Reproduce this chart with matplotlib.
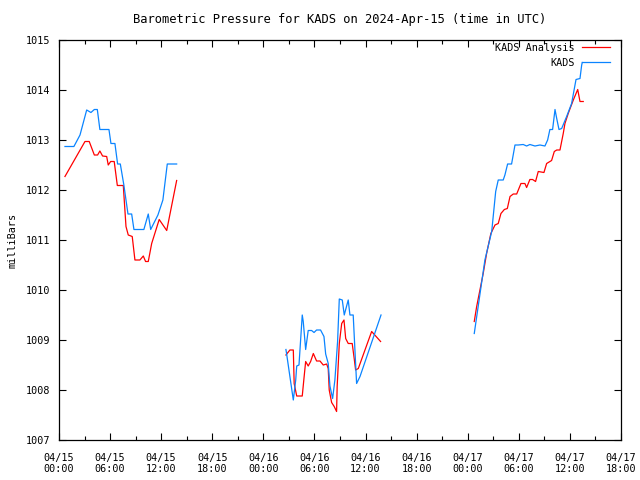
import numpy as np
import matplotlib
matplotlib.use('Agg')
import matplotlib.pyplot as plt
import matplotlib.dates as mdates

# hours after 2024-04-15 00:00 UTC, NaN marks a gap in the record
kads_hours = [0.70, 1.76, 2.47, 3.25, 3.76, 4.15, 4.50, 4.81, 5.87, 6.11, 6.58, 6.89, 7.20, 7.63,
              8.10, 8.54, 8.81, 9.98, 10.49, 10.77, 11.63, 12.21, 12.72, 13.82, np.nan,
              26.66, 26.74, 27.52, 27.80, 27.92, 28.19, 28.57, 28.69, 28.97, 29.28, 29.68, 29.95,
              30.26, 30.73, 31.12, 31.32, 31.63, 31.83, 32.14, 32.41, 32.73, 32.92, 33.27, 33.51,
              33.70, 33.98, 34.17, 34.56, 34.76, 34.96, 35.35, 37.82, np.nan,
              48.77, 50.03, 50.82, 51.29, 51.59, 52.18, 52.38, 52.69, 53.16, 53.55, 53.94, 54.53,
              54.92, 55.31, 55.90, 56.49, 57.07, 57.39, 57.66, 57.98, 58.25, 58.45, 58.72, 59.04,
              59.62, 60.21, 60.72, 61.19, 61.39, 61.46]
kads_mb = [1012.87, 1012.87, 1013.10, 1013.60, 1013.55, 1013.61, 1013.61, 1013.21, 1013.21, 1012.93,
           1012.93, 1012.52, 1012.52, 1012.10, 1011.52, 1011.52, 1011.21, 1011.21, 1011.52, 1011.21,
           1011.50, 1011.80, 1012.52, 1012.52, np.nan,
           1008.81, 1008.72, 1007.80, 1008.20, 1008.48, 1008.50, 1009.50, 1009.37, 1008.81, 1009.19,
           1009.19, 1009.15, 1009.20, 1009.20, 1009.07, 1008.72, 1008.53, 1008.08, 1007.83, 1008.20,
           1008.97, 1009.82, 1009.80, 1009.50, 1009.63, 1009.80, 1009.50, 1009.50, 1008.81, 1008.13,
           1008.27, 1009.50, np.nan,
           1009.13, 1010.60, 1011.17, 1011.97, 1012.20, 1012.20, 1012.30, 1012.52, 1012.52, 1012.90,
           1012.90, 1012.91, 1012.88, 1012.91, 1012.88, 1012.90, 1012.88, 1013.00, 1013.21, 1013.21,
           1013.61, 1013.43, 1013.21, 1013.23, 1013.47, 1013.73, 1014.21, 1014.23, 1014.50, 1014.55]

anl_hours = [0.70, 3.05, 3.56, 4.15, 4.54, 4.81, 5.13, 5.60, 5.79, 6.07, 6.49, 6.85, 7.55, 7.87,
             8.14, 8.61, 8.93, 9.51, 9.90, 10.18, 10.49, 10.89, 11.78, 12.65, 13.82, np.nan,
             26.66, 27.13, 27.52, 27.63, 27.92, 28.57, 28.77, 28.97, 29.28, 29.56, 29.87, 30.26,
             30.65, 31.04, 31.44, 31.63, 31.74, 32.03, 32.33, 32.61, 32.68, 32.92, 33.20, 33.47,
             33.67, 33.98, 34.44, 34.68, 34.84, 35.15, 36.72, 37.78, np.nan,
             48.77, 49.05, 49.83, 50.23, 50.73, 51.20, 51.59, 51.91, 52.30, 52.65, 52.97, 53.35,
             53.75, 54.26, 54.73, 54.93, 55.31, 55.62, 55.98, 56.29, 56.96, 57.27, 57.86, 58.17,
             58.45, 58.84, 59.22, 59.43, 59.81, 60.40, 60.92, 61.19, 61.57]
anl_mb = [1012.27, 1012.97, 1012.97, 1012.70, 1012.70, 1012.78, 1012.68, 1012.67, 1012.50, 1012.57,
          1012.57, 1012.09, 1012.09, 1011.27, 1011.10, 1011.07, 1010.60, 1010.60, 1010.68, 1010.57,
          1010.57, 1010.93, 1011.41, 1011.19, 1012.19, np.nan,
          1008.70, 1008.80, 1008.80, 1008.13, 1007.88, 1007.88, 1008.23, 1008.57, 1008.48, 1008.57,
          1008.73, 1008.58, 1008.58, 1008.50, 1008.52, 1008.43, 1008.00, 1007.75, 1007.67, 1007.57,
          1008.07, 1008.93, 1009.33, 1009.40, 1009.03, 1008.93, 1008.93, 1008.63, 1008.40, 1008.43,
          1009.17, 1008.97, np.nan,
          1009.37, 1009.67, 1010.33, 1010.73, 1011.13, 1011.30, 1011.33, 1011.53, 1011.61, 1011.63,
          1011.87, 1011.92, 1011.92, 1012.13, 1012.13, 1012.05, 1012.21, 1012.21, 1012.17, 1012.37,
          1012.35, 1012.53, 1012.59, 1012.77, 1012.80, 1012.80, 1013.13, 1013.33, 1013.53, 1013.80,
          1014.01, 1013.77, 1013.77]

start = np.datetime64('2024-04-15T00:00')
end = np.datetime64('2024-04-17T18:00')


def to_times(hours):
    mins = np.nan_to_num(np.array(hours) * 60).astype(int)
    return start + mins.astype('timedelta64[m]')


plt.rcParams['font.family'] = 'DejaVu Sans Mono'
plt.rcParams['font.size'] = 7.3

fig = plt.figure(figsize=(6.4, 4.8), dpi=100)
ax = fig.add_axes([59/640, 40/480, 562/640, 400/480])

ax.plot(to_times(anl_hours), anl_mb, color='#ff0000', lw=0.9, label='KADS Analysis')
ax.plot(to_times(kads_hours), kads_mb, color='#0a84ff', lw=0.9, label='KADS')

ax.set_xlim(start, end)
ax.set_ylim(1007, 1015)
ax.set_yticks(np.arange(1007, 1016, 1))
ax.yaxis.set_major_formatter(plt.FuncFormatter(lambda v, p: '%d' % v))
ax.xaxis.set_major_locator(mdates.HourLocator(byhour=range(0, 24, 6)))
ax.xaxis.set_minor_locator(mdates.HourLocator(byhour=range(0, 24, 3)))
ax.xaxis.set_major_formatter(mdates.DateFormatter('%m/%d\n%H:%M'))

ax.tick_params(which='both', direction='in', top=True, right=True, width=0.8, colors='black')
ax.tick_params(which='major', length=5, pad=6)
ax.tick_params(which='minor', length=3)
ax.tick_params(axis='x', which='major', pad=9)
for s in ax.spines.values():
    s.set_linewidth(0.9)

ax.set_title('Barometric Pressure for KADS on 2024-Apr-15 (time in UTC)', pad=12)
ax.set_ylabel('milliBars', labelpad=6)

ax.legend(loc='upper right', bbox_to_anchor=(0.985, 1.0), frameon=False, markerfirst=False,
          handlelength=2.7, handletextpad=0.7, labelspacing=0.45, borderaxespad=0.0,
          borderpad=0.3)

fig.savefig('out.png', dpi=100)
